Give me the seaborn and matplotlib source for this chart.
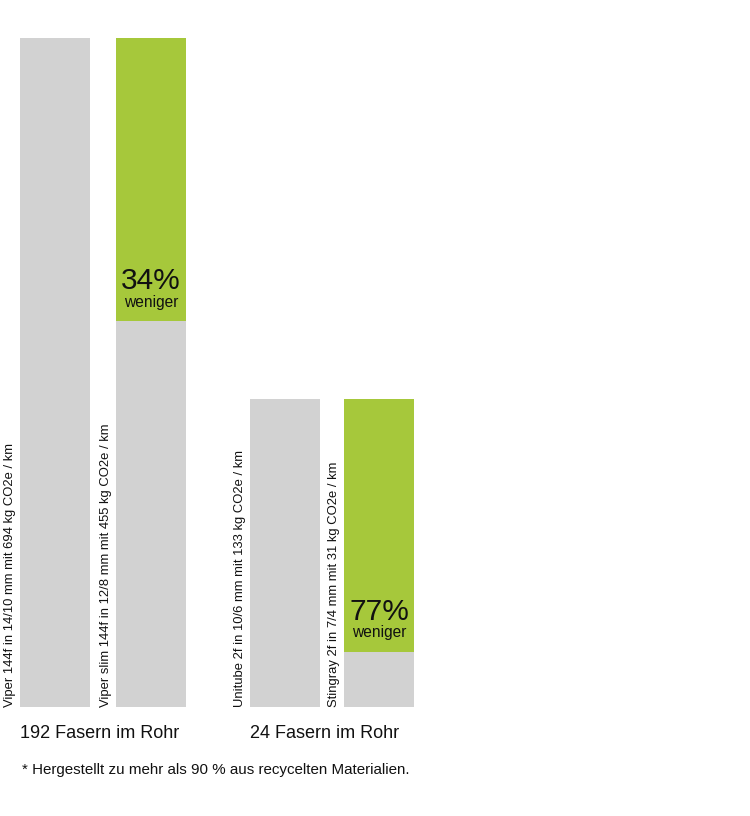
import pandas as pd
import numpy as np
import matplotlib
matplotlib.use("Agg")
import matplotlib.pyplot as plt
import seaborn as sns

# bar labels and groups
bar_labels = [
    "Viper 144f in 14/10 mm mit 694 kg CO2e / km",
    "Viper slim 144f in 12/8 mm mit 455 kg CO2e / km",
    "Unitube 2f in 10/6 mm mit 133 kg CO2e / km",
    "Stingray 2f in 7/4 mm mit 31 kg CO2e / km",
]
group_labels = ["192 Fasern im Rohr", "24 Fasern im Rohr"]
co2_values = [694, 455, 133, 31]

# heights as drawn in the graphic (not to scale)
bar_total = [669, 669, 308, 308]
bar_base = [669, 386, 308, 55]
saving_pct = [None, "34%", None, "77%"]

GRAY = "#d2d2d2"
GREEN = "#a6c83b"
FONT = ["Liberation Sans", "DejaVu Sans"]

sns.set_style("white")
plt.rcParams["font.family"] = FONT

# layout (pixels)
W, H = 750, 816
bottom_px = 707
centers = [55, 151, 285, 379]
bar_w = 70

df = pd.DataFrame({
    "pos": centers,
    "total": bar_total,
    "base": bar_base,
    "kind": ["base" if s is None else "saving" for s in saving_pct],
})

fig = plt.figure(figsize=(W / 100, H / 100), dpi=100)
ax = fig.add_axes([0, (H - bottom_px) / H, 1, bottom_px / H])

width = bar_w / np.min(np.diff(centers))
sns.barplot(data=df, x="pos", y="total", hue="kind", palette={"base": GRAY, "saving": GREEN},
            native_scale=True, width=width, legend=False, ax=ax, linewidth=0, saturation=1)
sns.barplot(data=df, x="pos", y="base", color=GRAY, saturation=1,
            native_scale=True, width=width, ax=ax, linewidth=0)

ax.set_xlim(0, W)
ax.set_ylim(0, bottom_px)
ax.axis("off")

# rotated bar labels, left of each bar
for c, lab in zip(centers, bar_labels):
    ax.text(c - bar_w / 2 - 10, 0, lab, rotation=90, ha="center", va="bottom",
            fontsize=9.4, color="#111111")

# percentage text inside the green part
for c, b, s in zip(centers, bar_base, saving_pct):
    if s is None:
        continue
    ax.text(c, b + 40, s, ha="center", va="center", fontsize=21.5, color="#111111")
    ax.text(c, b + 19, "weniger", ha="center", va="center", fontsize=11.2, color="#111111")

# group labels
for i, g in enumerate(group_labels):
    x0 = centers[2 * i] - bar_w / 2
    fig.text(x0 / W, 1 - 733 / H, g, ha="left", va="center", fontsize=13, color="#111111")

fig.text(22 / W, 1 - 770 / H, "* Hergestellt zu mehr als 90 % aus recycelten Materialien.",
         ha="left", va="center", fontsize=10.9, color="#111111")

fig.savefig("out.png", dpi=100, facecolor="white")
